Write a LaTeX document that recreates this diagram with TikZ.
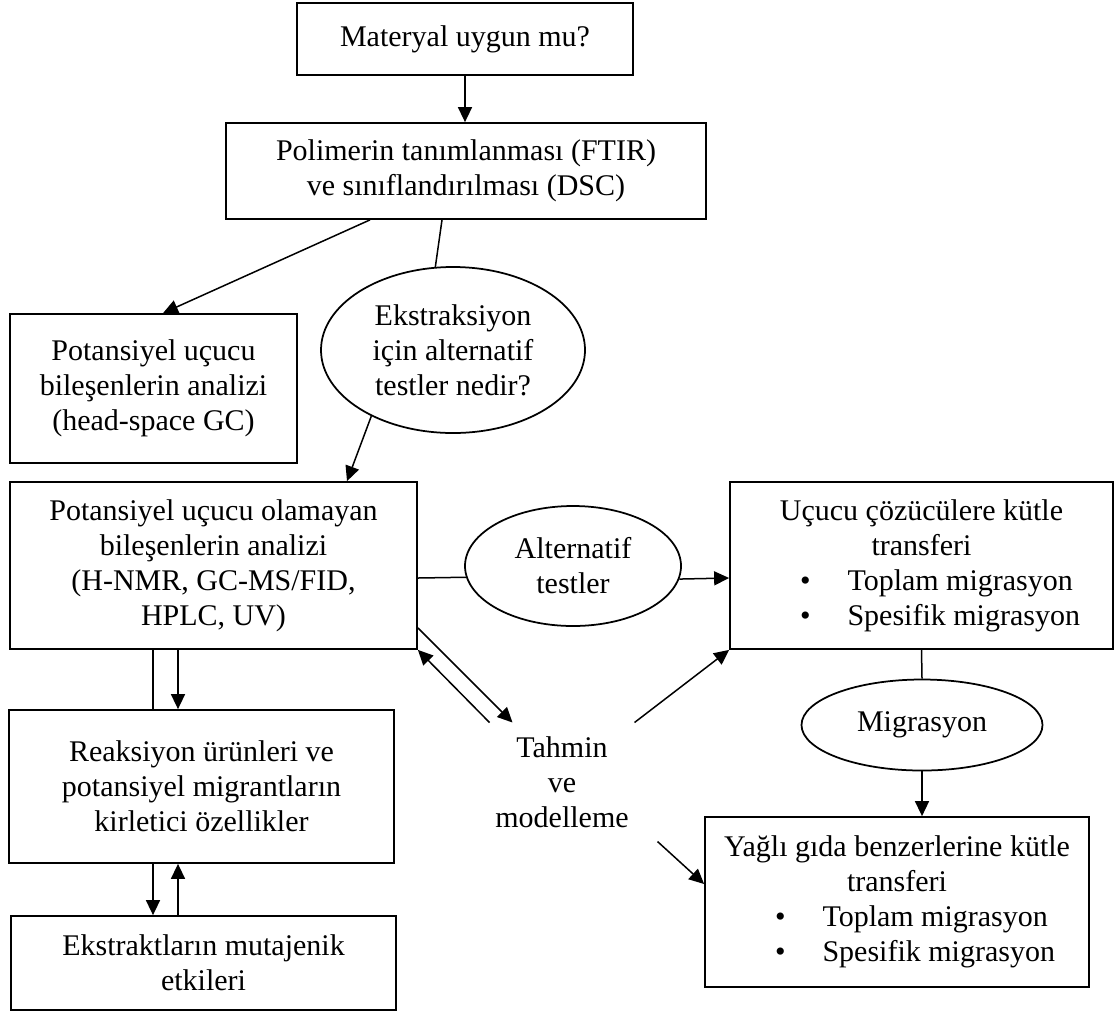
\documentclass[tikz,border=0pt]{standalone}
\usepackage{fontspec}
\setmainfont{Liberation Serif}
\usetikzlibrary{calc,arrows.meta,shapes.geometric}

\tikzset{
	kutu/.style={draw, line width=0.7pt, rectangle, inner sep=0pt, align=flush center, font=\fontsize{12}{14}\selectfont},
	elips/.style={draw, line width=0.7pt, ellipse, inner sep=-25pt, align=flush center, font=\fontsize{12}{14}\selectfont},
	yazi/.style={inner sep=0pt, align=flush center, font=\fontsize{12}{14}\selectfont},
	ok/.style={line width=0.6pt, -{Triangle[length=6pt,width=5.6pt]}},
	cizgi/.style={line width=0.6pt}
}
\newcommand{\madde}[1]{\hspace*{28pt}\makebox[19pt][l]{\textbullet}#1}

\begin{document}
\begin{tikzpicture}[x=0.4pt, y=-0.4pt]
		%%%%% START %%%%%
		\useasboundingbox (0, 0) rectangle (1117, 1014);
		
		\node[kutu, minimum width=134.4pt, minimum height=28.8pt] (mat) at (465, 39) {Materyal uygun mu?};
		\node[kutu, minimum width=192pt, minimum height=38.4pt] (pol) at (466, 171) {Polimerin tanımlanması (FTIR)\\ve sınıflandırılması (DSC)};
		
		\node[kutu, minimum width=114.8pt, minimum height=59.6pt] (ucu) at (153.5, 388.5) {Potansiyel uçucu\\bileşenlerin analizi\\(head-space GC)};
		\node[elips, minimum width=105.6pt, minimum height=66.4pt] (ext) at (453, 350) {Ekstraksiyon\\için alternatif\\testler nedir?};
		
		\node[kutu, minimum width=162.8pt, minimum height=66.8pt] (non) at (213.5, 565.5) {Potansiyel uçucu olamayan\\bileşenlerin analizi\\(H-NMR, GC-MS/FID,\\HPLC, UV)};
		\node[elips, minimum width=86.4pt, minimum height=48pt] (alt) at (573, 566) {Alternatif\\testler};
		\node[kutu, minimum width=153.2pt, minimum height=66.8pt, text width=153.2pt, align=flush left] (tra) at (921.5, 565.5) {{\centering Uçucu çözücülere kütle\\transferi\par}\madde{Toplam migrasyon}\\\madde{Spesifik migrasyon}};
		
		\node[kutu, minimum width=154pt, minimum height=61.2pt] (rea) at (201.5, 786.5) {Reaksiyon ürünleri ve\\potansiyel migrantların\\kirletici özellikler};
		\node[yazi, minimum width=57.6pt, minimum height=47.2pt] (tah) at (562, 782) {Tahmin\\ve\\modelleme};
		\node[elips, minimum width=96.4pt, minimum height=36.4pt] (mig) at (922, 725) {Migrasyon};
		
		\node[kutu, minimum width=154pt, minimum height=37.6pt] (mut) at (203.5, 963) {Ekstraktların mutajenik\\etkileri};
		\node[kutu, minimum width=153.6pt, minimum height=68pt, text width=153.6pt, align=flush left] (yag) at (897, 902) {{\centering Yağlı gıda benzerlerine kütle\\transferi\par}\madde{Toplam migrasyon}\\\madde{Spesifik migrasyon}};
		
		% ust kisim
		\draw[ok] (mat.south) -- (mat.south |- pol.north);
		\draw[ok] ($(pol.south)+(-96, 0)$) -- ($(ucu.north)+(9.5, 0)$);
		\draw[cizgi] ($(pol.south)+(-24, 0)$) -- (ext.102);
		\draw[ok] (ext.219) -- ($(non.north)+(133.5, 0)$);
		
		% orta
		\draw[cizgi] ($(non.east)+(0, 12.5)$) -- (alt.186.5);
		\draw[ok] (alt.353.5) -- ($(tra.west)+(0, 12.5)$);
		\draw[ok] ($(non.south east)+(0, -22)$) -- ($(tah.north west)+(23, 0)$);
		\draw[ok] (tah.north west) -- (non.south east);
		\draw[ok] (tah.north east) -- (tra.south west);
		\draw[ok] ($(tah.south east)+(23, 0)$) -- ($(yag.west)+(0, -18)$);
		\draw[cizgi] (tra.south) -- (mig.north);
		\draw[ok] (mig.south) -- (mig.south |- yag.north);
		
		% sol kolon
		\draw[cizgi] ($(non.south)+(-60.5, 0)$) -- ($(rea.north)+(-48.5, 0)$);
		\draw[ok] ($(non.south)+(-35.5, 0)$) -- ($(rea.north)+(-23.5, 0)$);
		\draw[ok] ($(rea.south)+(-48.5, 0)$) -- ($(mut.north)+(-50.5, 0)$);
		\draw[ok] ($(mut.north)+(-25.5, 0)$) -- ($(rea.south)+(-23.5, 0)$);
		
		%%%%% END %%%%%
	\end{tikzpicture}
\end{document}
